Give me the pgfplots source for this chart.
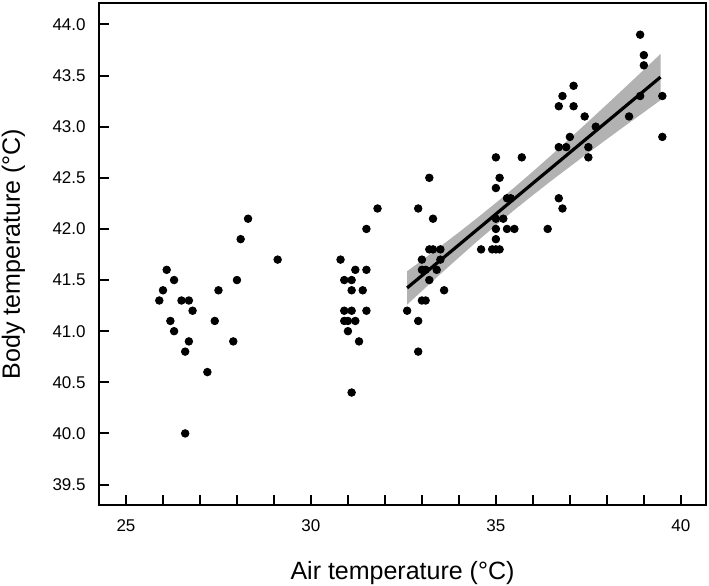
\documentclass[border=0pt]{standalone}
\usepackage{pgfplots}
\pgfplotsset{compat=1.18}
\usepackage{pgfplotstable}
\usepackage{fontspec}
\setmainfont{Liberation Sans}
\pgfplotstableread{
x y
25.9 41.3
26.0 41.4
26.1 41.6
26.3 41.5
26.2 41.1
26.3 41.0
26.5 41.3
26.7 41.3
26.8 41.2
26.7 40.9
26.6 40.8
26.6 40.0
27.2 40.6
27.4 41.1
27.5 41.4
27.9 40.9
28.0 41.5
28.1 41.9
28.3 42.1
29.1 41.7
30.8 41.7
31.2 41.6
31.5 41.6
30.9 41.5
31.1 41.5
31.1 41.4
31.4 41.4
30.9 41.2
31.1 41.2
31.5 41.2
30.9 41.1
31.0 41.1
31.2 41.1
31.0 41.0
31.3 40.9
31.1 40.4
31.5 42.0
31.8 42.2
32.6 41.2
32.9 42.2
33.2 42.5
33.3 42.1
33.2 41.8
33.3 41.8
33.5 41.8
33.0 41.7
33.5 41.7
33.0 41.6
33.1 41.6
33.4 41.6
33.2 41.5
33.6 41.4
33.0 41.3
33.1 41.3
32.9 41.1
32.9 40.8
34.6 41.8
34.9 41.8
35.0 41.8
35.1 41.8
35.0 41.9
35.0 42.0
35.3 42.0
35.5 42.0
35.0 42.1
35.2 42.1
35.3 42.3
35.4 42.3
35.0 42.4
35.1 42.5
35.0 42.7
35.7 42.7
36.4 42.0
36.7 42.3
36.8 42.2
36.7 42.8
36.9 42.8
37.0 42.9
37.5 42.8
37.5 42.7
37.1 43.4
36.8 43.3
36.7 43.2
37.1 43.2
37.4 43.1
37.7 43.0
38.6 43.1
38.9 43.3
39.5 43.3
39.5 42.9
38.9 43.9
39.0 43.7
39.0 43.6
}\pts
\begin{document}
\begin{tikzpicture}
\begin{axis}[
  scale only axis,
  width=303.5pt, height=251pt,
  xmin=24.27, xmax=40.68,
  ymin=39.3, ymax=44.21,
  axis line style={line width=1.1pt, black},
  tick pos=left,
  tick align=inside,
  xtick={25,30,35,40},
  minor xtick={26,27,28,29,31,32,33,34,36,37,38,39},
  ytick={39.5,40,40.5,41,41.5,42,42.5,43,43.5,44},
  yticklabels={39.5,40.0,40.5,41.0,41.5,42.0,42.5,43.0,43.5,44.0},
  major tick length=5pt, minor tick length=5pt,
  every tick/.style={black, line width=1pt},
  /pgf/number format/assume math mode=true,
  ticklabel style={font=\fontsize{8.5}{10}\selectfont, inner sep=0pt},
  yticklabel shift=6.5pt,
  xticklabel shift=7pt,
  xlabel={Air temperature (°C)},
  ylabel={Body temperature (°C)},
  label style={font=\fontsize{12.5}{15}\selectfont, inner sep=0pt},
  xlabel style={at={(axis description cs:0.5,0)}, anchor=base, yshift=-37.5pt},
  ylabel style={at={(axis description cs:0,0.5)}, anchor=base, yshift=39.5pt},
  clip=false,
]
\addplot[fill=gray!60, draw=none] coordinates {
(32.6,41.586) (33.0,41.693) (33.5,41.829) (34.0,41.967) (34.5,42.109) (35.0,42.255) (35.5,42.406) (36.0,42.562) (36.5,42.722) (37.0,42.885) (37.5,43.051) (38.0,43.218) (38.5,43.387) (39.0,43.557) (39.45,43.711)
(39.45,43.259) (39.0,43.141) (38.5,43.011) (38.0,42.878) (37.5,42.745) (37.0,42.609) (36.5,42.472) (36.0,42.330) (35.5,42.186) (35.0,42.035) (34.5,41.881) (34.0,41.721) (33.5,41.559) (33.0,41.393) (32.6,41.260)
} -- cycle;
\addplot[only marks, mark=*, mark size=1.9pt, black] table[x=x, y=y] {\pts};
\addplot[black, line width=1.6pt] coordinates {(32.6,41.423) (39.45,43.485)};
\end{axis}
\path ([shift={(-49.5pt,-40.5pt)}]current axis.south west) rectangle ([shift={(1.5pt,1.5pt)}]current axis.north east);
\end{tikzpicture}
\end{document}
